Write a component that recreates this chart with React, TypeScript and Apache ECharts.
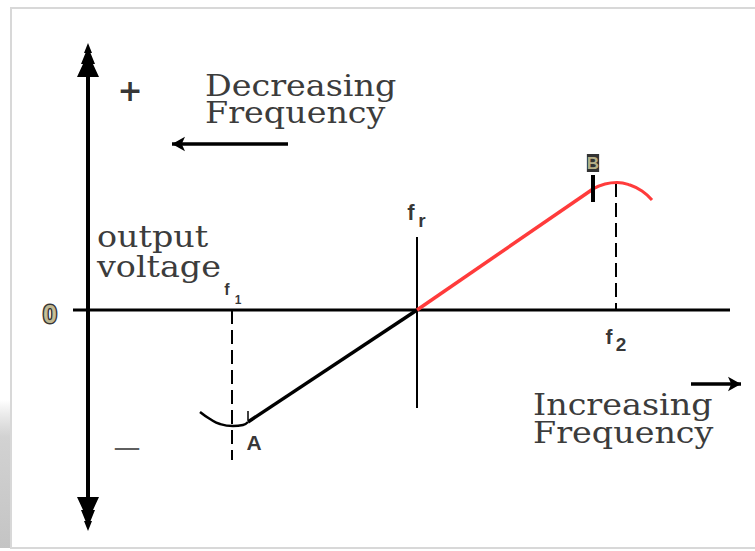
import React, { useEffect, useRef } from 'react';
import * as echarts from 'echarts';

// ---- Frequency axis anchors (arbitrary units, resonant frequency fr at 0) ----
const F1 = -9.25;
const FR = 0;
const F2 = 9.95;

// ---- Discriminator S-curve: output voltage vs frequency ----
const curveMinFreq = [-10.85, -10.35, -9.85, -9.2, -8.7, -8.45];
const curveMinVolt = [-5.1, -5.45, -5.7, -5.8, -5.75, -5.6];
const slopeLowFreq = [-8.45, FR];
const slopeLowVolt = [-5.6, 0];
const slopeHighFreq = [FR, 8.8];
const slopeHighVolt = [0, 6.05];
const curveMaxFreq = [8.8, 9.4, 10.0, 10.65, 11.25, 11.75];
const curveMaxVolt = [6.05, 6.3, 6.375, 6.25, 5.95, 5.5];

const POINT_A = [-8.45, -5.6];
const POINT_B = [8.8, 6.05];

// ---- Reference lines ----
const voltAxisFreq = -16.45;
const voltAxisRange = [-10.2, 12.5];
const freqAxisRange = [-17.2, 15.65];
const frLineVolt = [-4.9, 3.65];
const f1DashVolt = [0, -7.5];
const f2DashVolt = [6.35, 0];
const markBVolt = [5.4, 6.75];
const markAVolt = [-5.05, -5.5];
const decArrowFreq = [-6.45, -12.25];
const decArrowVolt = 8.3;
const incArrowFreq = [13.7, 16.2];
const incArrowVolt = -3.7;

// ---- Axis extents ----
const FREQ_MIN = -18.85;
const FREQ_MAX = 16.65;
const VOLT_MIN = -11.55;
const VOLT_MAX = 14;

// ---- Small labels (text + anchor in data units) ----
const labelTexts = ['f', '1', 'f', 'r', 'f', '2', 'A', 'B', '0', '+', '\u2014'];
const labelFreq = [F1, F1, FR, FR, F2, F2, POINT_A[0], POINT_B[0], voltAxisFreq, voltAxisFreq, voltAxisFreq];
const labelVolt = [0, 0, frLineVolt[1], frLineVolt[1], 0, 0, POINT_A[1], POINT_B[1], 0, 0, 0];

// ---- Caption texts ----
const captionLines = ['Decreasing', 'Frequency', 'output', 'voltage', 'Increasing', 'Frequency'];

const SANS = '"Liberation Sans", Arial, sans-serif';
const SERIF = '"DejaVu Serif", serif';

const LABEL_STYLE: any[] = [
  { offset: [-5, -21], fontSize: 16 },
  { offset: [6, -10], fontSize: 12 },
  { offset: [-6, -25], fontSize: 22 },
  { offset: [5, -17], fontSize: 19 },
  { offset: [-7, 26], fontSize: 21 },
  { offset: [5, 34], fontSize: 19 },
  { offset: [6, 20], fontSize: 21 },
  { offset: [0, -26], fontSize: 17, color: '#ddd3a0', backgroundColor: '#000', padding: [1, 0, 0, 0] },
  { offset: [-38, 4], fontSize: 25, color: '#e6dcaa', textBorderColor: '#000', textBorderWidth: 3 },
  { offset: [42, -220], fontSize: 30, fontFamily: '"DejaVu Sans", sans-serif' },
  { offset: [39, 136], fontSize: 27, fontWeight: 'normal', color: '#333', fontFamily: '"DejaVu Sans", sans-serif' },
];

const CAPTION_POS = [
  [205, 86], [205, 113], [97, 237], [97, 267], [533, 405], [533, 433],
];

const TREE_ARROW =
  'path://M11,0 L15,10 L13.5,10 L18,21 L16,21 L22,34 L0,34 L6,21 L4,21 L8.5,10 L7,10 Z';

function pairs(xs: number[], ys: number[]) {
  return xs.map((x, i) => [x, ys[i]]);
}

function seg(x0: number, y0: number, x1: number, y1: number) {
  return [[x0, y0], [x1, y1]];
}

function plainLine(name: string, data: number[][], lineStyle: any, extra: any = {}) {
  return {
    name,
    type: 'line',
    data,
    symbol: 'none',
    showSymbol: false,
    silent: true,
    lineStyle,
    ...extra,
  };
}

export default function App() {
  const ref = useRef<HTMLDivElement>(null);

  useEffect(() => {
    if (!ref.current) return;
    const chart = echarts.init(ref.current, null, { renderer: 'svg' });

    const labelData = labelTexts.map((t, i) => {
      const s = LABEL_STYLE[i];
      return {
        value: [labelFreq[i], labelVolt[i]],
        label: {
          show: true,
          formatter: t,
          position: 'inside',
          offset: s.offset,
          fontSize: s.fontSize,
          fontWeight: s.fontWeight || 'bold',
          fontFamily: s.fontFamily || SANS,
          color: s.color || '#000',
          backgroundColor: s.backgroundColor,
          padding: s.padding,
          textBorderColor: s.textBorderColor,
          textBorderWidth: s.textBorderWidth || 0,
          align: 'center',
          verticalAlign: 'middle',
        },
      };
    });

    const captions = captionLines.map((t, i) => ({
      type: 'text',
      x: CAPTION_POS[i][0],
      y: CAPTION_POS[i][1],
      scaleX: 1.15,
      silent: true,
      z: 10,
      style: {
        text: t,
        fontSize: 29,
        fontFamily: SERIF,
        fill: '#3c3c3c',
        align: 'left',
        verticalAlign: 'middle',
        textAlign: 'left',
        textVerticalAlign: 'middle',
      },
    }));

    const option: any = {
      animation: false,
      backgroundColor: '#ffffff',
      grid: { left: 40, top: 30, width: 710, height: 511, containLabel: false },
      xAxis: { type: 'value', min: FREQ_MIN, max: FREQ_MAX, show: false },
      yAxis: { type: 'value', min: VOLT_MIN, max: VOLT_MAX, show: false },
      graphic: [
        {
          type: 'rect',
          silent: true,
          z: -10,
          shape: { x: 0, y: 400, width: 11, height: 148 },
          style: {
            fill: new echarts.graphic.LinearGradient(0, 0, 0, 1, [
              { offset: 0, color: 'rgba(200,200,200,0)' },
              { offset: 0.25, color: '#d2d2d2' },
              { offset: 1, color: '#c4c4c4' },
            ]),
          },
        },
        {
          type: 'rect',
          silent: true,
          z: -9,
          shape: { x: 11, y: 8, width: 760, height: 540 },
          style: { fill: '#fff', stroke: '#d8d8d8', lineWidth: 2 },
        },
        ...captions,
      ],
      series: [
        plainLine('freq axis', seg(freqAxisRange[0], 0, freqAxisRange[1], 0), { color: '#000', width: 3 }, { z: 2 }),
        {
          name: 'volt axis',
          type: 'line',
          data: [],
          silent: true,
          z: 3,
          markLine: {
            silent: true,
            animation: false,
            symbol: [TREE_ARROW, TREE_ARROW],
            symbolSize: [22, 34],
            label: { show: false },
            lineStyle: { color: '#000', width: 4, type: 'solid' },
            emphasis: { disabled: true },
            data: [[
              { coord: [voltAxisFreq, voltAxisRange[0]] },
              { coord: [voltAxisFreq, voltAxisRange[1]] },
            ]],
          },
        },
        plainLine('fr line', seg(FR, frLineVolt[0], FR, frLineVolt[1]), { color: '#000', width: 2 }, { z: 2 }),
        plainLine('f1 dash', seg(F1, f1DashVolt[0], F1, f1DashVolt[1]), { color: '#000', width: 2, type: [14, 6] }, { z: 2 }),
        plainLine('f2 dash', seg(F2, f2DashVolt[0], F2, f2DashVolt[1]), { color: '#000', width: 2, type: [14, 6] }, { z: 2 }),
        plainLine('curve min', pairs(curveMinFreq, curveMinVolt), { color: '#000', width: 2.5 }, { smooth: 0.5, z: 4 }),
        plainLine('slope low', pairs(slopeLowFreq, slopeLowVolt), { color: '#000', width: 3.5 }, { z: 4 }),
        plainLine('slope high', pairs(slopeHighFreq, slopeHighVolt), { color: '#ff3b3b', width: 3.5 }, { z: 4 }),
        plainLine('curve max', pairs(curveMaxFreq, curveMaxVolt), { color: '#ff3b3b', width: 3 }, { smooth: 0.5, z: 4 }),
        plainLine('mark B', seg(POINT_B[0], markBVolt[0], POINT_B[0], markBVolt[1]), { color: '#000', width: 4 }, { z: 5 }),
        plainLine('mark A', seg(POINT_A[0], markAVolt[0], POINT_A[0], markAVolt[1]), { color: '#000', width: 1.5 }, { z: 5 }),
        {
          name: 'direction arrows',
          type: 'line',
          data: [],
          silent: true,
          z: 3,
          markLine: {
            silent: true,
            animation: false,
            symbol: ['none', 'arrow'],
            symbolSize: [11, 13],
            label: { show: false },
            lineStyle: { color: '#000', width: 3.5, type: 'solid' },
            emphasis: { disabled: true },
            data: [
              [{ coord: [decArrowFreq[0], decArrowVolt] }, { coord: [decArrowFreq[1], decArrowVolt] }],
              [{ coord: [incArrowFreq[0], incArrowVolt] }, { coord: [incArrowFreq[1], incArrowVolt] }],
            ],
          },
        },
        {
          name: 'labels',
          type: 'scatter',
          silent: true,
          z: 6,
          symbolSize: 1,
          itemStyle: { color: 'rgba(0,0,0,0)' },
          data: labelData,
        },
      ],
    };

    chart.setOption(option);
    return () => chart.dispose();
  }, []);

  return (
    <div
      ref={ref}
      style={{ position: 'fixed', left: 0, top: 0, width: 755, height: 551, background: '#fff' }}
    />
  );
}
